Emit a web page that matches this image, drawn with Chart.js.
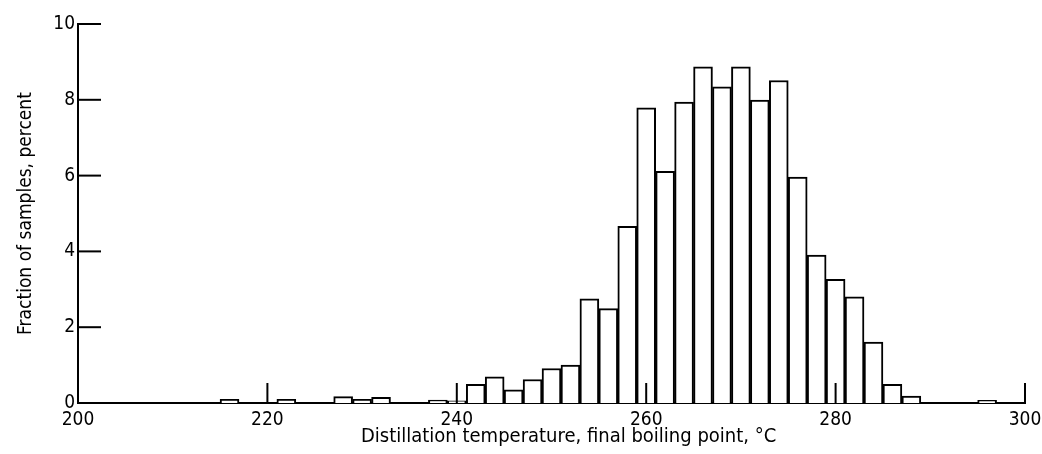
<!DOCTYPE html>
<html>
<head>
<meta charset="utf-8">
<script src="https://cdn.jsdelivr.net/npm/chart.js@4"></script>
<style>
  body { margin: 0; background: #fff; }
</style>
</head>
<body>
<canvas id="boilingChart" width="1042" height="454"></canvas>
<script>
// bin centres (2 degC wide bins), degC
const binCenters = [216, 222, 228, 230, 232, 238, 240, 242, 244, 246, 248, 250, 252, 254, 256, 258,
                    260, 262, 264, 266, 268, 270, 272, 274, 276, 278, 280, 282, 284, 286, 288, 296]
// fraction of samples, percent
const fractions = [0.1, 0.1, 0.17, 0.1, 0.15, 0.08, 0.06, 0.49, 0.69, 0.35, 0.62, 0.91, 1.0, 2.75, 2.49, 4.66,
                   7.79, 6.11, 7.94, 8.87, 8.34, 8.87, 7.99, 8.51, 5.96, 3.90, 3.26, 2.80, 1.61, 0.49, 0.18, 0.07]
const xTicks = [200, 220, 240, 260, 280, 300]
const yTicks = [0, 2, 4, 6, 8, 10]

const fontFamily = "'Liberation Sans Narrow', 'DejaVu Sans Condensed', 'Arial Narrow', sans-serif"

// ticks in the old report style: short marks pointing into the plot
const innerTicks = {
    id: 'innerTicks',
    afterDraw(chart) {
        const ctx = chart.ctx
        const x = chart.scales.x
        const y = chart.scales.y
        ctx.save()
        ctx.strokeStyle = '#000'
        ctx.lineWidth = 2
        yTicks.forEach(v => {
            const py = y.getPixelForValue(v)
            ctx.beginPath()
            ctx.moveTo(x.left, py)
            ctx.lineTo(x.left + 23, py)
            ctx.stroke()
        })
        xTicks.slice(1).forEach(v => {
            const px = x.getPixelForValue(v)
            ctx.beginPath()
            ctx.moveTo(px, y.bottom)
            ctx.lineTo(px, y.bottom - 20)
            ctx.stroke()
        })
        ctx.restore()
    }
}

const ctx = document.getElementById('boilingChart').getContext('2d')

const data = {
    datasets: [{
        label: 'Fraction of samples',
        data: binCenters.map((c, i) => ({ x: c, y: fractions[i] })),
        backgroundColor: '#fff',
        borderColor: '#000',
        borderWidth: 2,
        barPercentage: 1,
        categoryPercentage: 1
    }]
}

const options = {
    responsive: false,
    animation: false,
    layout: { padding: { top: 24, right: 17, bottom: 0, left: 0 } },
    plugins: {
        legend: { display: false },
        tooltip: { enabled: false }
    },
    scales: {
        x: {
            type: 'linear',
            offset: false,
            min: 200,
            max: 300,
            afterFit(scale) {
                scale.height = 51
                scale.paddingLeft = 0
                scale.paddingRight = 0
            },
            afterBuildTicks(scale) { scale.ticks = xTicks.map(v => ({ value: v })) },
            grid: { display: false, drawTicks: false, offset: false },
            border: { display: true, color: '#000', width: 2 },
            ticks: { color: '#000', padding: 6, font: { family: fontFamily, size: 19 } },
            title: {
                display: true,
                // leading spaces push the label a little right of centre, as in the original
                text: '      Distillation temperature, final boiling point, °C',
                color: '#000',
                padding: { top: 0, bottom: 5 },
                font: { family: fontFamily, size: 20 }
            }
        },
        y: {
            min: 0,
            max: 10,
            afterFit(scale) { scale.width = 78 },
            afterBuildTicks(scale) { scale.ticks = yTicks.map(v => ({ value: v })) },
            grid: { display: false, drawTicks: false },
            border: { display: true, color: '#000', width: 2 },
            ticks: { color: '#000', padding: 3, font: { family: fontFamily, size: 19 } },
            title: {
                display: true,
                text: 'Fraction of samples, percent',
                color: '#000',
                padding: { top: 15, bottom: 0 },
                font: { family: fontFamily, size: 19 }
            }
        }
    }
}

const chart = new Chart(ctx, {
    type: 'bar',
    data: data,
    options: options,
    plugins: [innerTicks]
})
</script>
</body>
</html>
